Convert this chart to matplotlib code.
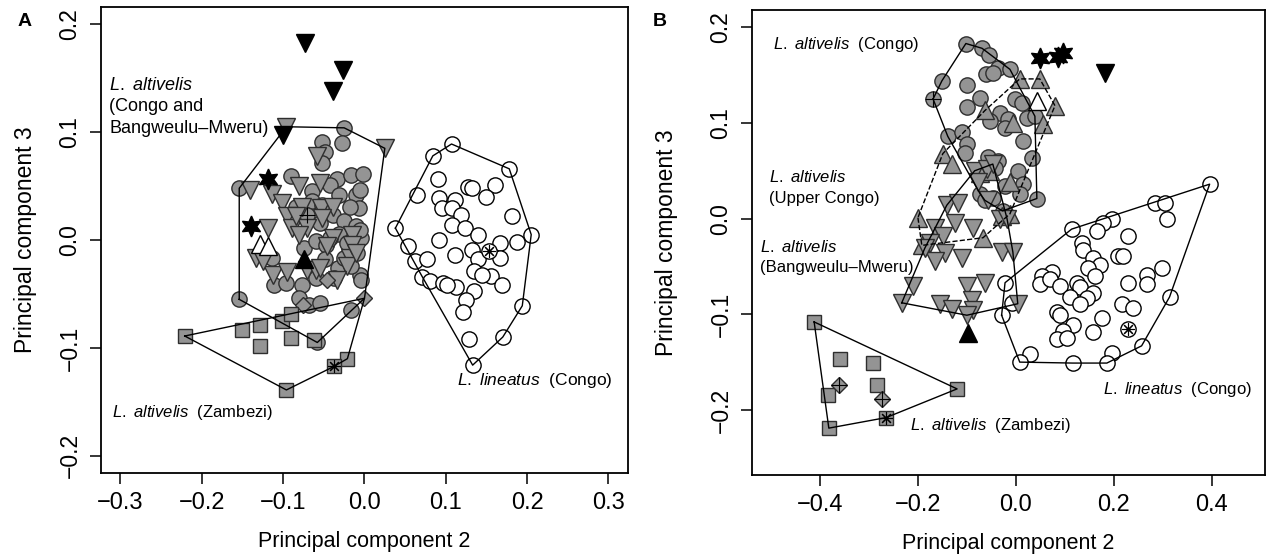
import numpy as np
import matplotlib
matplotlib.use('Agg')
import matplotlib.pyplot as plt

plt.rcParams['font.family'] = ['Liberation Sans', 'DejaVu Sans']
plt.rcParams['mathtext.fontset'] = 'custom'
plt.rcParams['mathtext.it'] = 'Liberation Sans:italic'
plt.rcParams['mathtext.rm'] = 'Liberation Sans'

# ---------------- panel A ----------------
a_circ_x = [-0.025, -0.052, -0.028, -0.049, -0.052, -0.090, -0.154, -0.034, -0.016, -0.002,
            -0.043, -0.065, -0.031, -0.010, -0.007, -0.064, -0.052, -0.084, -0.039, -0.025,
            -0.010, -0.055, -0.031, -0.043, -0.021, -0.004, -0.114, -0.074, -0.059, -0.047,
            -0.033, -0.006, -0.004, -0.059, -0.037, -0.111, -0.096, -0.077, -0.080, -0.068,
            -0.055, -0.154, -0.058, -0.016, -0.049, -0.025, -0.009, -0.016, -0.006, -0.018,
            -0.006]
a_circ_y = [0.104, 0.091, 0.090, 0.082, 0.071, 0.059, 0.048, 0.057, 0.060, 0.061,
            0.051, 0.045, 0.042, 0.042, 0.030, 0.036, 0.032, 0.031, 0.023, 0.018,
            0.013, 0.016, 0.006, 0.002, -0.003, 0.002, -0.017, -0.007, -0.001, -0.005,
            -0.026, -0.032, -0.037, -0.035, -0.035, -0.042, -0.040, -0.042, -0.054, -0.060,
            -0.058, -0.055, -0.095, -0.065, -0.018, -0.017, -0.012, -0.024, 0.046, 0.031,
            0.009]
a_tri_x = [-0.096, 0.025, -0.058, -0.141, -0.114, -0.080, -0.055, -0.102, -0.095, -0.077,
           -0.053, -0.039, -0.119, -0.089, -0.071, -0.052, -0.015, -0.039, -0.133, -0.113,
           -0.095, -0.071, -0.059, -0.046, -0.018, -0.021, -0.015, -0.034, -0.055, -0.084,
           -0.080, -0.125, -0.010]
a_tri_y = [0.105, 0.085, 0.078, 0.046, 0.043, 0.050, 0.053, 0.034, 0.022, 0.031,
           0.030, 0.031, 0.011, 0.011, 0.011, 0.020, 0.005, 0.002, -0.017, -0.032,
           -0.030, -0.028, -0.028, -0.006, -0.017, -0.024, -0.005, -0.037, -0.026, 0.022,
           0.005, -0.019, -0.012]
a_dia_x = [-0.076, -0.046, 0.000]
a_dia_y = [-0.060, -0.037, -0.054]
a_sq_x = [-0.221, -0.151, -0.129, -0.129, -0.101, -0.090, -0.090, -0.062, -0.096, -0.021]
a_sq_y = [-0.089, -0.083, -0.079, -0.098, -0.075, -0.069, -0.091, -0.093, -0.139, -0.110]
a_sqstar_x = [-0.037]
a_sqstar_y = [-0.117]
a_cross_x = [-0.071]
a_cross_y = [0.023]
a_black_down_x = [-0.073, -0.027, -0.039, -0.100]
a_black_down_y = [0.183, 0.158, 0.138, 0.097]
a_black_star_x = [-0.119, -0.139]
a_black_star_y = [0.057, 0.013]
a_black_up_x = [-0.074]
a_black_up_y = [-0.018]
a_white_up_x = [-0.129, -0.119]
a_white_up_y = [-0.004, -0.006]
a_lin_x = [0.107, 0.084, 0.178, 0.090, 0.127, 0.132, 0.160, 0.064, 0.092, 0.111,
           0.150, 0.095, 0.107, 0.119, 0.181, 0.038, 0.107, 0.123, 0.139, 0.092,
           0.205, 0.053, 0.111, 0.132, 0.166, 0.187, 0.139, 0.166, 0.062, 0.077,
           0.135, 0.156, 0.169, 0.071, 0.080, 0.096, 0.113, 0.135, 0.125, 0.121,
           0.194, 0.129, 0.170, 0.133, 0.145, 0.102]
a_lin_y = [0.089, 0.078, 0.066, 0.057, 0.049, 0.048, 0.051, 0.042, 0.039, 0.037,
           0.040, 0.030, 0.030, 0.023, 0.022, 0.011, 0.014, 0.011, 0.005, 0.000,
           0.005, -0.006, -0.014, -0.009, -0.003, -0.002, -0.018, -0.017, -0.019, -0.018,
           -0.029, -0.033, -0.042, -0.034, -0.038, -0.040, -0.044, -0.047, -0.056, -0.067,
           -0.061, -0.092, -0.090, -0.116, -0.032, -0.042]
a_linstar_x = [0.153]
a_linstar_y = [-0.010]

# ---------------- panel B ----------------
b_circ_x = [-0.102, -0.069, -0.055, -0.037, -0.012, -0.061, -0.047, -0.151, -0.100, -0.073,
            -0.100, -0.002, 0.012, -0.033, -0.053, -0.016, 0.022, -0.022, 0.039, -0.139,
            -0.110, -0.100, -0.104, 0.014, -0.057, -0.037, -0.043, 0.033, 0.004, 0.014,
            -0.022, -0.073, -0.063, -0.047, 0.008, 0.043, -0.027]
b_circ_y = [0.183, 0.178, 0.171, 0.157, 0.156, 0.151, 0.152, 0.144, 0.140, 0.126,
            0.117, 0.125, 0.121, 0.110, 0.102, 0.104, 0.105, 0.095, 0.107, 0.086,
            0.091, 0.078, 0.069, 0.081, 0.064, 0.060, 0.053, 0.063, 0.050, 0.036,
            0.034, 0.026, 0.019, 0.022, 0.026, 0.021, 0.008]
b_cross_x = [-0.169]
b_cross_y = [0.125]
b_up_x = [0.008, 0.049, -0.063, -0.006, 0.055, 0.080, -0.149, -0.131, -0.073, -0.053,
          -0.012, -0.200, -0.192, -0.067, -0.029, -0.012]
b_up_y = [0.146, 0.146, 0.113, 0.100, 0.099, 0.118, 0.068, 0.057, 0.048, 0.050,
          0.038, 0.001, -0.028, -0.020, 0.003, 0.005]
b_white_up_x = [0.043]
b_white_up_y = [0.123]
b_down_x = [-0.084, -0.059, -0.078, -0.057, -0.033, -0.018, -0.141, -0.118, -0.124, -0.088,
            -0.165, -0.149, -0.176, -0.145, -0.165, -0.186, -0.110, -0.029, -0.006, -0.210,
            -0.100, -0.063, -0.233, -0.155, -0.131, -0.090, -0.088, -0.100, 0.004, -0.047]
b_down_y = [0.050, 0.052, 0.038, 0.019, 0.000, 0.000, 0.014, 0.016, -0.005, -0.010,
            -0.010, -0.018, -0.025, -0.036, -0.044, -0.031, -0.041, -0.035, -0.035, -0.070,
            -0.070, -0.067, -0.088, -0.089, -0.094, -0.085, -0.096, -0.101, -0.089, 0.057]
b_black_down_x = [0.182]
b_black_down_y = [0.152]
b_black_star_x = [0.049, 0.086, 0.096]
b_black_star_y = [0.168, 0.169, 0.173]
b_black_up_x = [-0.098]
b_black_up_y = [-0.120]
b_sq_x = [-0.412, -0.359, -0.292, -0.284, -0.384, -0.382, -0.120]
b_sq_y = [-0.108, -0.147, -0.151, -0.174, -0.184, -0.219, -0.178]
b_dia_x = [-0.361, -0.273]
b_dia_y = [-0.174, -0.189]
b_sqstar_x = [-0.265]
b_sqstar_y = [-0.208]
b_lin_x = [0.396, 0.284, 0.304, 0.308, 0.196, 0.178, 0.165, 0.114, 0.229, 0.135,
           0.137, 0.157, 0.208, 0.218, 0.171, 0.147, 0.161, 0.073, 0.053, 0.049,
           0.069, 0.090, 0.124, 0.131, 0.157, 0.145, 0.110, 0.131, 0.229, 0.269,
           0.269, 0.298, -0.022, 0.216, 0.239, 0.314, 0.084, 0.090, 0.116, 0.176,
           0.157, 0.096, 0.084, 0.104, 0.257, 0.196, 0.186, 0.116, 0.029, 0.008,
           -0.029, -0.008]
b_lin_y = [0.036, 0.016, 0.016, 0.000, 0.000, -0.005, -0.013, -0.011, -0.018, -0.025,
           -0.033, -0.041, -0.039, -0.039, -0.049, -0.052, -0.060, -0.056, -0.060, -0.068,
           -0.063, -0.070, -0.067, -0.072, -0.078, -0.083, -0.082, -0.089, -0.067, -0.059,
           -0.068, -0.052, -0.067, -0.089, -0.093, -0.082, -0.098, -0.101, -0.111, -0.104,
           -0.119, -0.117, -0.126, -0.125, -0.133, -0.140, -0.151, -0.151, -0.141, -0.150,
           -0.101, -0.088]
b_linstar_x = [0.229]
b_linstar_y = [-0.115]

GRAY = '#949494'
EDGE = '#2e2e2e'


def chull(x, y):
    # monotone chain convex hull, returns closed outline
    pts = sorted(set(zip(x, y)))

    def cross(o, a, b):
        return (a[0] - o[0]) * (b[1] - o[1]) - (a[1] - o[1]) * (b[0] - o[0])
    lower, upper = [], []
    for p in pts:
        while len(lower) >= 2 and cross(lower[-2], lower[-1], p) <= 0:
            lower.pop()
        lower.append(p)
    for p in reversed(pts):
        while len(upper) >= 2 and cross(upper[-2], upper[-1], p) <= 0:
            upper.pop()
        upper.append(p)
    h = lower[:-1] + upper[:-1]
    h.append(h[0])
    return [p[0] for p in h], [p[1] for p in h]


def hull_line(ax, x, y, ls='-'):
    hx, hy = chull(x, y)
    ax.plot(hx, hy, color='black', lw=1.0, ls=ls, zorder=5)


def pts(ax, x, y, marker, ms, fc, ec=EDGE, mew=1.0, z=3):
    ax.plot(x, y, ls='none', marker=marker, ms=ms, mfc=fc, mec=ec, mew=mew, zorder=z)


def fmt(v, pos):
    return ('%.1f' % v).replace('-', '\u2212')


fig = plt.figure(figsize=(12.78, 5.57), dpi=100)
axA = fig.add_axes([0.0790, 0.1508, 0.4124, 0.8366])
axB = fig.add_axes([0.5884, 0.1472, 0.4014, 0.8348])

# panel A markers
pts(axA, a_lin_x, a_lin_y, 'o', 11, 'white', 'black')
pts(axA, a_linstar_x, a_linstar_y, 'o', 11, 'white', 'black')
pts(axA, a_linstar_x, a_linstar_y, (8, 2, 0), 9, 'black', 'black', 0.8, 4)
pts(axA, a_circ_x, a_circ_y, 'o', 11, GRAY)
pts(axA, a_cross_x, a_cross_y, 'o', 11, GRAY)
pts(axA, a_cross_x, a_cross_y, '+', 11, 'black', 'black', 0.8, 4)
pts(axA, a_tri_x, a_tri_y, 'v', 12.5, GRAY)
pts(axA, a_dia_x, a_dia_y, 'D', 8.5, GRAY)
pts(axA, a_sq_x, a_sq_y, 's', 10, GRAY)
pts(axA, a_sqstar_x, a_sqstar_y, 's', 10, GRAY)
pts(axA, a_sqstar_x, a_sqstar_y, (8, 2, 0), 9, 'black', 'black', 0.8, 4)
pts(axA, a_white_up_x, a_white_up_y, '^', 12.5, 'white', 'black')
pts(axA, a_black_down_x, a_black_down_y, 'v', 12.5, 'black', 'black')
pts(axA, a_black_up_x, a_black_up_y, '^', 12.5, 'black', 'black')
pts(axA, a_black_star_x, a_black_star_y, (6, 1, 0), 15, 'black', 'black')

hull_line(axA, a_circ_x + a_tri_x + a_dia_x + a_cross_x, a_circ_y + a_tri_y + a_dia_y + a_cross_y)
hull_line(axA, a_sq_x + a_sqstar_x + a_dia_x[-1:], a_sq_y + a_sqstar_y + a_dia_y[-1:])
hull_line(axA, a_lin_x + a_linstar_x, a_lin_y + a_linstar_y)

# panel B markers
pts(axB, b_lin_x, b_lin_y, 'o', 11, 'white', 'black')
pts(axB, b_linstar_x, b_linstar_y, 'o', 11, 'white', 'black')
pts(axB, b_linstar_x, b_linstar_y, (8, 2, 0), 9, 'black', 'black', 0.8, 4)
pts(axB, b_circ_x, b_circ_y, 'o', 11, GRAY)
pts(axB, b_cross_x, b_cross_y, 'o', 11, GRAY)
pts(axB, b_cross_x, b_cross_y, '+', 11, 'black', 'black', 0.8, 4)
pts(axB, b_up_x, b_up_y, '^', 12.5, GRAY)
pts(axB, b_white_up_x, b_white_up_y, '^', 12.5, 'white', 'black')
pts(axB, b_down_x, b_down_y, 'v', 12.5, GRAY)
pts(axB, b_sq_x, b_sq_y, 's', 10, GRAY)
pts(axB, b_dia_x, b_dia_y, 'D', 8.5, GRAY)
pts(axB, b_dia_x, b_dia_y, '+', 11, 'black', 'black', 0.8, 4)
pts(axB, b_sqstar_x, b_sqstar_y, 's', 10, GRAY)
pts(axB, b_sqstar_x, b_sqstar_y, (8, 2, 0), 9, 'black', 'black', 0.8, 4)
pts(axB, b_black_down_x, b_black_down_y, 'v', 12.5, 'black', 'black')
pts(axB, b_black_up_x, b_black_up_y, '^', 12.5, 'black', 'black')
pts(axB, b_black_star_x, b_black_star_y, (6, 1, 0), 15, 'black', 'black')

hull_line(axB, b_circ_x + b_cross_x, b_circ_y + b_cross_y)
hull_line(axB, b_up_x + b_white_up_x, b_up_y + b_white_up_y, ls='--')
hull_line(axB, b_down_x, b_down_y)
hull_line(axB, b_sq_x + b_dia_x + b_sqstar_x, b_sq_y + b_dia_y + b_sqstar_y)
hull_line(axB, b_lin_x + b_linstar_x, b_lin_y + b_linstar_y)

# group labels
axA.text(-0.314, 0.143, r'$\mathit{L.\ altivelis}$', fontsize=13, va='center')
axA.text(-0.314, 0.124, '(Congo and', fontsize=13, va='center')
axA.text(-0.314, 0.103, 'Bangweulu\u2013Mweru)', fontsize=13, va='center')
axA.text(-0.310, -0.160, r'$\mathit{L.\ altivelis}$' + '  (Zambezi)', fontsize=12, va='center')
axA.text(0.114, -0.130, r'$\mathit{L.\ lineatus}$' + '  (Congo)', fontsize=12.5, va='center')

axB.text(-0.496, 0.182, r'$\mathit{L.\ altivelis}$' + '  (Congo)', fontsize=12, va='center')
axB.text(-0.504, 0.043, r'$\mathit{L.\ altivelis}$', fontsize=12, va='center')
axB.text(-0.504, 0.021, '(Upper Congo)', fontsize=12, va='center')
axB.text(-0.522, -0.030, r'$\mathit{L.\ altivelis}$', fontsize=12, va='center')
axB.text(-0.522, -0.051, '(Bangweulu\u2013Mweru)', fontsize=12, va='center')
axB.text(-0.216, -0.216, r'$\mathit{L.\ altivelis}$' + '  (Zambezi)', fontsize=12, va='center')
axB.text(0.178, -0.179, r'$\mathit{L.\ lineatus}$' + '  (Congo)', fontsize=12, va='center')

# axes styling
axA.set_xlim(-0.324, 0.324)
axA.set_ylim(-0.216, 0.216)
axA.set_xticks([-0.3, -0.2, -0.1, 0.0, 0.1, 0.2, 0.3])
axA.set_yticks([-0.2, -0.1, 0.0, 0.1, 0.2])
axB.set_xlim(-0.539, 0.509)
axB.set_ylim(-0.268, 0.218)
axB.set_xticks([-0.4, -0.2, 0.0, 0.2, 0.4])
axB.set_yticks([-0.2, -0.1, 0.0, 0.1, 0.2])

for ax, lx in ((axA, -0.122), (axB, -0.145)):
    ax.xaxis.set_major_formatter(matplotlib.ticker.FuncFormatter(fmt))
    ax.yaxis.set_major_formatter(matplotlib.ticker.FuncFormatter(fmt))
    ax.tick_params(direction='out', length=8, width=1.1, pad=6)
    ax.tick_params(axis='x', labelsize=17)
    ax.tick_params(axis='y', labelsize=16.5, labelrotation=90)
    for lab in ax.get_yticklabels():
        lab.set_va('center')
    for sp in ax.spines.values():
        sp.set_linewidth(1.3)
    ax.set_xlabel('Principal component 2', fontsize=15.5)
    ax.set_ylabel('Principal component 3', fontsize=16.5)
    ax.xaxis.set_label_coords(0.5, -0.125)
    ax.yaxis.set_label_coords(lx, 0.5)

fig.text(0.014, 0.962, 'A', fontsize=14, fontweight='bold', va='center')
fig.text(0.511, 0.962, 'B', fontsize=14, fontweight='bold', va='center')

fig.savefig('out.png', dpi=100)
